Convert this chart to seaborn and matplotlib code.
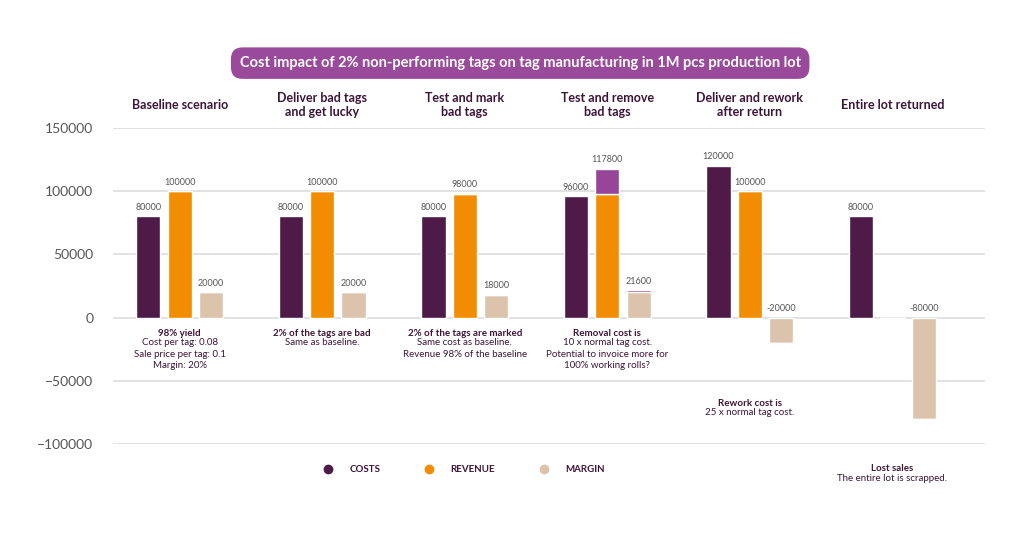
import matplotlib.pyplot as plt
import numpy as np
import seaborn as sns

sns.set_theme(style="white")
plt.rcParams["font.family"] = ["Lato", "DejaVu Sans"]

scenarios = ["Baseline scenario", "Deliver bad tags\nand get lucky", "Test and mark\nbad tags",
             "Test and remove\nbad tags", "Deliver and rework\nafter return", "Entire lot returned"]
costs = [80000, 80000, 80000, 96000, 120000, 80000]
revenue = [100000, 100000, 98000, 98000, 100000, 0]
revenue_extra = [0, 0, 0, 19800, 0, 0]
margin = [20000, 20000, 18000, 20000, -20000, -80000]
margin_extra = [0, 0, 0, 1600, 0, 0]
rev_labels = ["100000", "100000", "98000", "117800", "100000", None]
margin_labels = ["20000", "20000", "18000", "21600", "-20000", "-80000"]
notes = [
    ("98% yield", "Cost per tag: 0.08\nSale price per tag: 0.1\nMargin: 20%", 0),
    ("2% of the tags are bad", "Same as baseline.", 0),
    ("2% of the tags are marked", "Same cost as baseline.\nRevenue 98% of the baseline", 0),
    ("Removal cost is", "10 x normal tag cost.\nPotential to invoice more for\n100% working rolls?", 0),
    ("Rework cost is", "25 x normal tag cost.", -55000),
    ("Lost sales", "The entire lot is scrapped.", -107000),
]

c_cost, c_rev, c_mar, c_extra = "#4e1a48", "#f28c00", "#dcc3ab", "#974599"
grey = "#555555"

fig = plt.figure(figsize=(10.24, 5.35), dpi=100)
ax = fig.add_axes([0.110, 0.170, 0.852, 0.591])
x = np.arange(len(scenarios))
w, off = 0.17, 0.22

ax.bar(x - off, costs, w, color=c_cost, label="COSTS", zorder=3)
ax.bar(x, revenue, w, color=c_rev, label="REVENUE", zorder=3)
ax.bar(x, revenue_extra, w, bottom=revenue, color=c_extra, zorder=3)
ax.bar(x + off, margin, w, color=c_mar, label="MARGIN", zorder=3)
ax.bar(x + off, margin_extra, w, bottom=margin, color=c_extra, zorder=3)

for i in range(len(x)):
    ax.text(x[i] - off, costs[i] + 5000, f"{costs[i]}", ha="center", fontsize=6.5, color=grey)
    if rev_labels[i]:
        top = revenue[i] + revenue_extra[i]
        ax.text(x[i], top + 5000, rev_labels[i], ha="center", fontsize=6.5, color=grey)
    ytop = max(margin[i] + margin_extra[i], 0)
    ax.text(x[i] + off, ytop + 5000, margin_labels[i], ha="center", fontsize=6.5, color=grey)
    ax.text(x[i] + 0.0, 168000, scenarios[i], ha="center", va="center", fontsize=9,
            fontweight="bold", color="#3d1537", clip_on=False)
    head, body, y0 = notes[i]
    yy = -9000 + y0
    ax.text(x[i], yy, head, ha="center", va="top", fontsize=7, fontweight="bold", color="#3d1537", clip_on=False)
    ax.text(x[i], yy - 7500, body, ha="center", va="top", fontsize=7, color="#3d1537",
            linespacing=1.35, clip_on=False)

ax.set_xlim(-0.47, 5.65)
ax.set_ylim(-100000, 150000)
ax.set_yticks([-100000, -50000, 0, 50000, 100000, 150000])
ax.tick_params(axis="y", labelsize=10, colors=grey, length=0, pad=14)
ax.set_xticks([])
ax.grid(axis="y", color="#dddddd", linewidth=1.2, zorder=0)
for s in ax.spines.values():
    s.set_visible(False)

handles = [plt.Line2D([], [], marker="o", markersize=6, linestyle="", color=c) for c in (c_cost, c_rev, c_mar)]
leg = ax.legend(handles, ["COSTS", "REVENUE", "MARGIN"], loc="upper center", bbox_to_anchor=(0.4, -0.04),
                ncol=3, frameon=False, fontsize=7, columnspacing=4, handletextpad=1.2)
for t in leg.get_texts():
    t.set_fontweight("bold")
    t.set_color("#3d1537")

fig.text(0.508, 0.882, "Cost impact of 2% non-performing tags on tag manufacturing in 1M pcs production lot",
         ha="center", va="center", fontsize=10.5, fontweight="bold", color="white",
         bbox=dict(boxstyle="round,pad=0.6,rounding_size=0.8", fc="#9a4a9a", ec="none"))

fig.savefig("out.png", dpi=100, facecolor="white")
